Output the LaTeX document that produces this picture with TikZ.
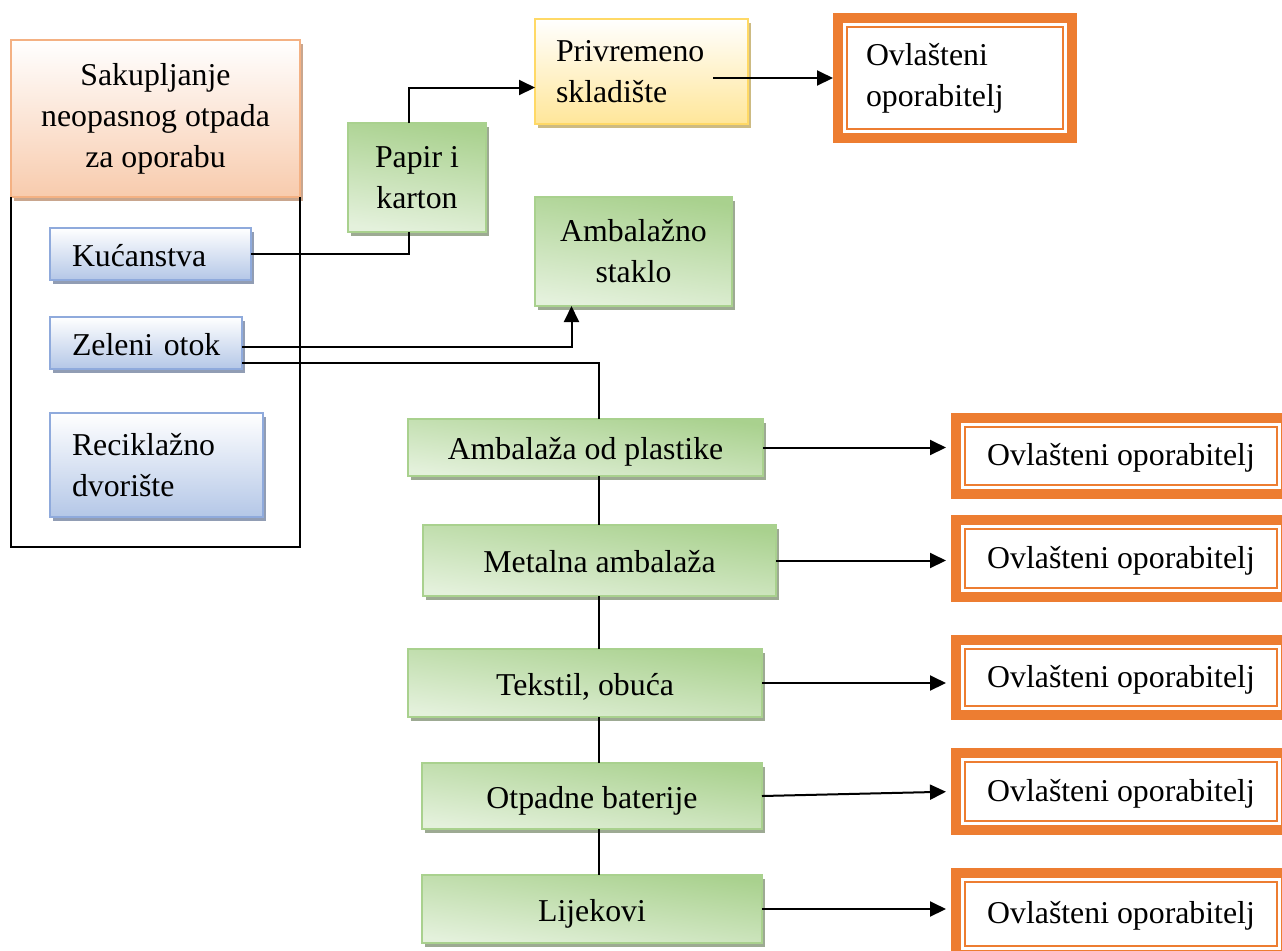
\documentclass[tikz,border=0pt]{standalone}
\usepackage{fontspec}
\setmainfont{Liberation Serif}
\usetikzlibrary{arrows.meta,shadows}

\definecolor{grnD}{HTML}{A9D18E}
\definecolor{grnL}{HTML}{E4F1DC}
\definecolor{grnS}{HTML}{9DAA93}
\definecolor{bluD}{HTML}{B4C7E7}
\definecolor{bluB}{HTML}{8FAADC}
\definecolor{bluS}{HTML}{919DB4}
\definecolor{orgD}{HTML}{F8CBAD}
\definecolor{orgB}{HTML}{F4B183}
\definecolor{orgS}{HTML}{C9A68E}
\definecolor{ylwD}{HTML}{FFE699}
\definecolor{ylwB}{HTML}{FFD966}
\definecolor{ylwS}{HTML}{CDBB83}
\definecolor{ovlO}{HTML}{ED7D31}

\tikzset{
  box/.style={anchor=north west, inner sep=0pt, outer sep=0pt, line width=1pt,
    font=\fontsize{15.9}{20.5}\selectfont, align=center},
  oneline/.style={text height=#1, text depth=0pt},
  oneline/.default=12pt,
  shd/.style={general shadow={fill=#1, shadow xshift=1.5pt, shadow yshift=-2pt}},
  grnbox/.style={box, draw=grnD, top color=grnD, bottom color=grnL,
    shading angle=-8, shd=grnS},
  blubox/.style={box, draw=bluB, top color=white, bottom color=bluD,
    shd=bluS, align=left, inner xsep=11pt},
  orgbox/.style={box, draw=orgB, top color=white, bottom color=orgD, shd=orgS},
  ylwbox/.style={box, draw=ylwB, top color=white, bottom color=ylwD,
    shd=ylwS, align=left, inner xsep=10.5pt},
  ovlbox/.style={box, draw=ovlO, line width=5pt, fill=white},
  conn/.style={line width=0.7pt},
  arr/.style={line width=1pt, -{Triangle[length=8pt,width=7.5pt]}},
}

\begin{document}
\begin{tikzpicture}[x=0.5pt, y=-0.5pt]
\useasboundingbox (0,0) rectangle (1282,950);
\clip (0,0) rectangle (1282,950);

% collection group
\node[orgbox, minimum width=144.5pt, minimum height=78.5pt] (sak) at (11,40)
  {Sakupljanje\\neopasnog otpada\\za oporabu};
\coordinate (grpend) at (300,547);
\draw[line width=0.8pt] (sak.south west) |- (grpend) |- (sak.south east);

\node[blubox, oneline, text width=78.5pt, minimum height=26pt] (kuc) at (50,228) {Kućanstva};
\node[blubox, oneline, text width=74pt, minimum height=26pt] (zel) at (50,317) {\mbox{Zeleni otok}};
\node[blubox, text width=84.5pt, minimum height=52pt] (rec) at (50,413) {Reciklažno\\dvorište};

% top branch
\node[grnbox, minimum width=69pt, minimum height=54.5pt] (pap) at (348,123) {Papir i\\karton};
\node[ylwbox, text width=85.5pt, minimum height=52.5pt] (priv) at (535,19) {Privremeno\\skladište};
\node[grnbox, minimum width=98.5pt, minimum height=54.5pt] (stak) at (535,197) {Ambalažno\\staklo};
\node[ovlbox, align=left, inner xsep=14pt, text width=89pt, minimum height=60pt] (ovl0) at (838,18)
  {Ovlašteni\\oporabitelj};

% waste streams
\node[grnbox, oneline, minimum width=177.5pt, minimum height=28.5pt] (pla) at (408,419) {Ambalaža od plastike};
\node[grnbox, oneline, minimum width=176.5pt, minimum height=35.5pt] (met) at (423,525) {Metalna ambalaža};
\node[grnbox, oneline, minimum width=177pt, minimum height=34pt] (tek) at (408,649) {Tekstil, obuća};
\node[grnbox, oneline, minimum width=170pt, minimum height=33pt] (otp) at (422,763) {Otpadne baterije};
\node[grnbox, oneline, minimum width=170pt, minimum height=34pt] (lij) at (422,875) {Lijekovi};

\foreach \i/\y/\h in {1/418/38pt,2/520/38.5pt,3/640/37.5pt,4/753/38.5pt,5/873/41pt} {
  \node[ovlbox, oneline=9.5pt, minimum width=165pt, minimum height=\h] (ovl\i) at (956,\y) {Ovlašteni oporabitelj};
}
\foreach \i in {0,...,5}
  \draw[ovlO, line width=1pt] ([shift={(4.5pt,-4.5pt)}]ovl\i.north west)
    rectangle ([shift={(-4.5pt,4.5pt)}]ovl\i.south east);

% connectors
\coordinate (spine) at (599,0);
\coordinate (privout) at ([xshift=-17.5pt]priv.east);
\coordinate (zlow) at ([yshift=-10pt]zel.east);

\draw[conn] (kuc.east) -| ([xshift=-4pt]pap.south);
\draw[arr] ([xshift=-4pt]pap.north) |- ([yshift=-8pt]priv.west);
\draw[arr, shorten >=2.5pt] (privout |- ovl0.west) -- (ovl0.west);
\draw[arr] ([yshift=-2pt]zel.east) -| ([xshift=-31pt]stak.south);
\draw[conn] (zlow) -| (pla.north -| spine);
\foreach \a/\b in {pla/met,met/tek,tek/otp,otp/lij}
  \draw[conn] (\a.south -| spine) -- (\b.north -| spine);

\foreach \a/\b in {pla/ovl1,met/ovl2,tek/ovl3,lij/ovl5}
  \draw[arr, shorten >=5pt] (\a.east) -- (\a.east -| \b.west);
\draw[arr, shorten >=5pt] (otp.east) -- (ovl4.west);

\end{tikzpicture}
\end{document}
